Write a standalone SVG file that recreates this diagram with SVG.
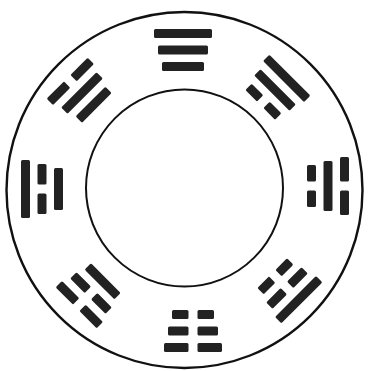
<svg xmlns="http://www.w3.org/2000/svg" xmlns:xlink="http://www.w3.org/1999/xlink" width="369" height="371" viewBox="0 0 369 371">
<style>
.ring{fill:none;stroke:#111}
.bar{fill:#222}
</style>
<defs>
<g id="oS"><rect class="bar" x="-29" y="-21" width="58" height="9" rx="1.5"/></g>
<g id="oB"><rect class="bar" x="-29" y="-21" width="24.5" height="9" rx="1.5"/><rect class="bar" x="4.5" y="-21" width="24.5" height="9" rx="1.5"/></g>
<g id="mS"><rect class="bar" x="-25" y="-4.5" width="50" height="9" rx="1.5"/></g>
<g id="mB"><rect class="bar" x="-25" y="-4.5" width="20.5" height="9" rx="1.5"/><rect class="bar" x="4.5" y="-4.5" width="20.5" height="9" rx="1.5"/></g>
<g id="iS"><rect class="bar" x="-21" y="12" width="42" height="9" rx="1.5"/></g>
<g id="iB"><rect class="bar" x="-21" y="12" width="16.5" height="9" rx="1.5"/><rect class="bar" x="4.5" y="12" width="16.5" height="9" rx="1.5"/></g>
</defs>
<rect width="369" height="371" fill="#fff"/>
<g id="rings">
<circle class="ring" cx="184.5" cy="190" r="178" stroke-width="2.4"/>
<circle class="ring" cx="184.5" cy="188" r="98.5" stroke-width="2"/>
</g>
<g id="qian" transform="translate(183,50) rotate(0)"><use href="#oS"/><use href="#mS"/><use href="#iS"/></g>
<g id="xun" transform="translate(275,90) rotate(45)"><use href="#oS"/><use href="#mS"/><use href="#iB"/></g>
<g id="kan" transform="translate(328,186) rotate(90)"><use href="#oB"/><use href="#mS"/><use href="#iB"/></g>
<g id="gen" transform="translate(287,288) rotate(135)"><use href="#oS"/><use href="#mB"/><use href="#iB"/></g>
<g id="kun" transform="translate(193,331) rotate(180)"><use href="#oB"/><use href="#mB"/><use href="#iB"/></g>
<g id="zhen" transform="translate(91,293) rotate(225)"><use href="#oB"/><use href="#mB"/><use href="#iS"/></g>
<g id="li" transform="translate(42,189) rotate(270)"><use href="#oS"/><use href="#mB"/><use href="#iS"/></g>
<g id="dui" transform="translate(82,93) rotate(315)"><use href="#oB"/><use href="#mS"/><use href="#iS"/></g>
</svg>
